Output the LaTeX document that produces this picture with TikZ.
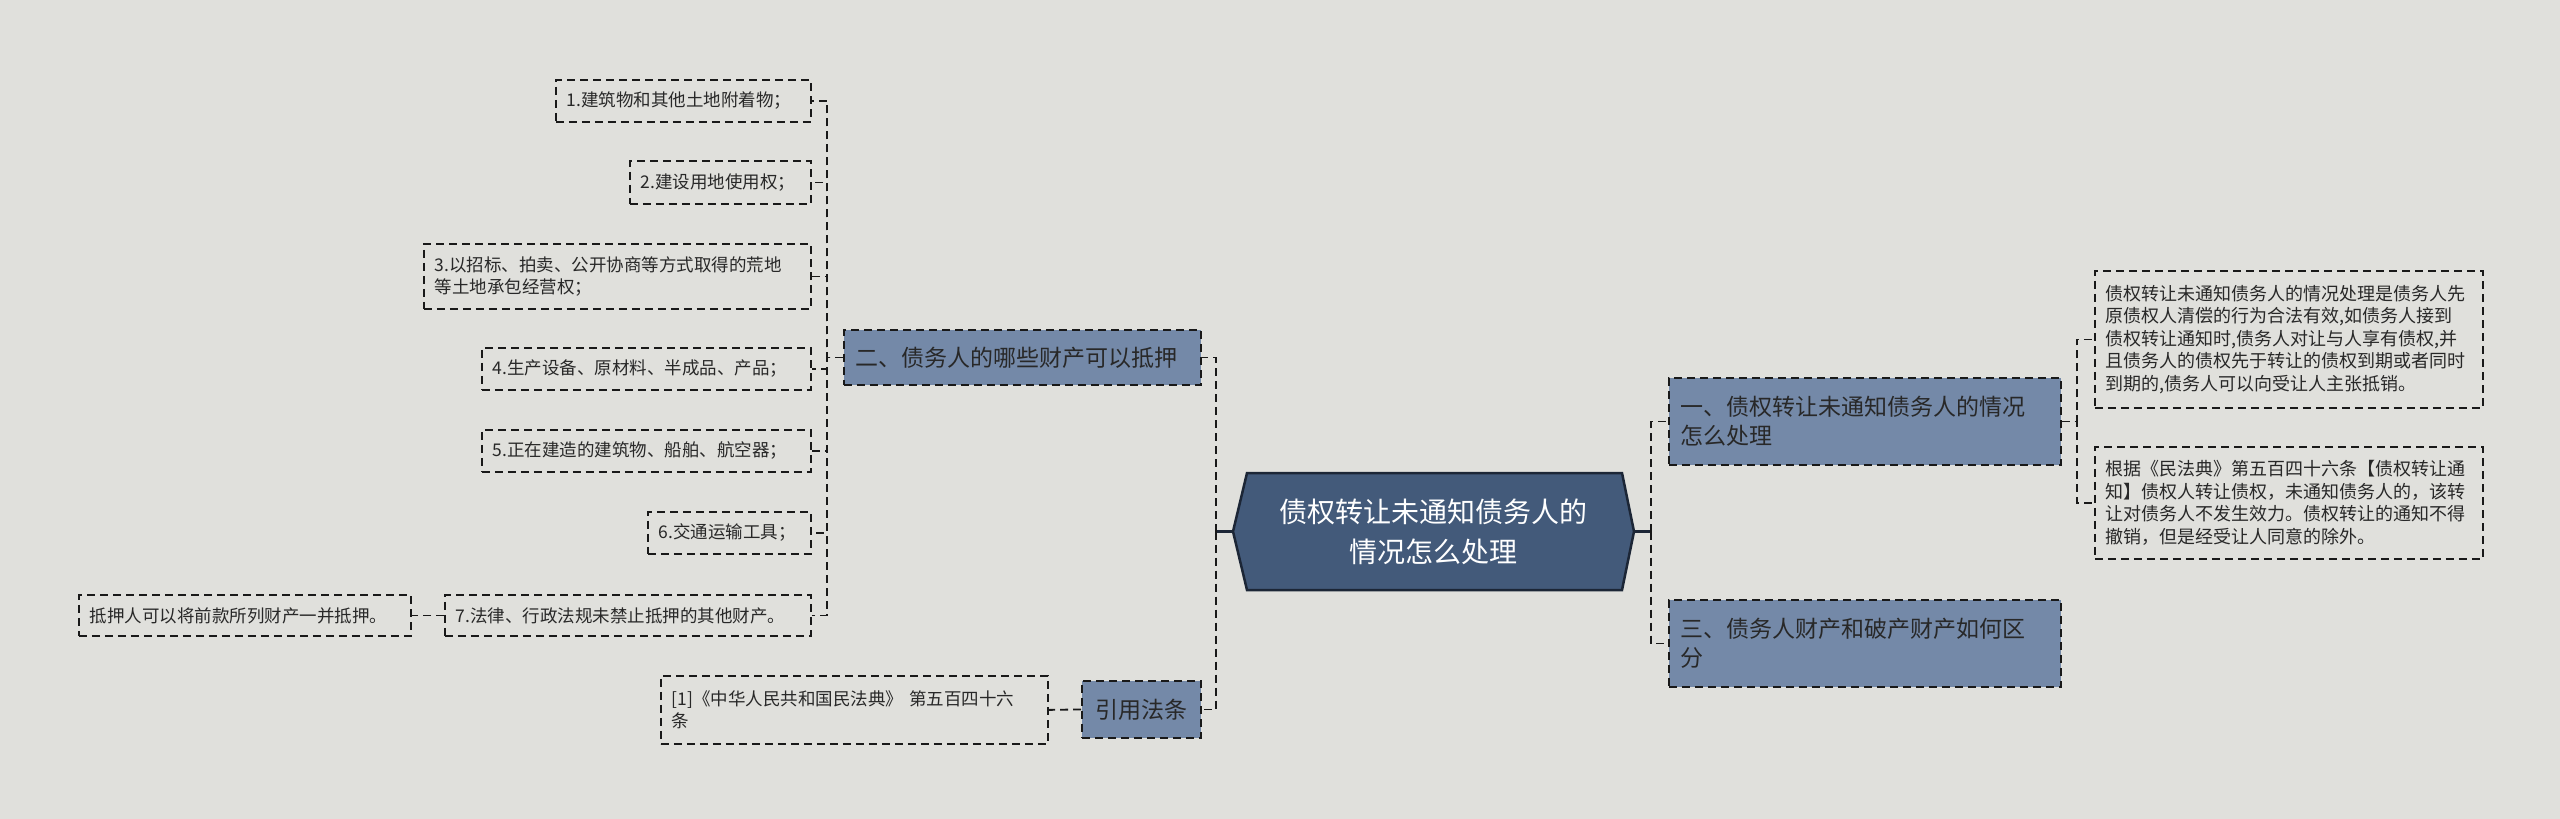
\documentclass[tikz,border=0pt]{standalone}
\usepackage{fontspec}
\setmainfont{Noto Sans CJK SC}
\usetikzlibrary{calc}
\definecolor{bg}{RGB}{224,224,220}
\definecolor{lvone}{RGB}{116,137,168}
\definecolor{ctr}{RGB}{67,90,122}
\definecolor{ctrline}{RGB}{28,38,54}
\definecolor{ink}{RGB}{40,40,40}
\definecolor{lineink}{RGB}{25,25,25}
\tikzset{
 box/.style={draw=lineink, dash pattern=on 8pt off 5pt, line width=1.8pt, anchor=north west, align=left, inner ysep=0pt, inner xsep=11pt},
 topic/.style={box, fill=lvone, text=ink, font=\fontsize{23}{29}\selectfont, inner xsep=12pt},
 leaf/.style={box, text=ink, font=\fontsize{17.5}{22.5}\selectfont},
 rleaf/.style={box, text=ink, font=\fontsize{18}{22.5}\selectfont},
 conn/.style={draw=lineink, dash pattern=on 8pt off 5pt, line width=1.8pt},
 stub/.style={draw=ctrline, line width=2.5pt},
}
\begin{document}
\begin{tikzpicture}[x=1pt,y=-1pt]
\fill[bg] (0,0) rectangle (2560,819);
\useasboundingbox (0,0) rectangle (2560,819);
% central hexagon
\filldraw[fill=ctr, draw=ctrline, line width=2.5pt] (1233,531.5) -- (1247,473) -- (1622,473) -- (1634,531.5) -- (1622,590) -- (1247,590) -- cycle;
\node[text=white, font=\fontsize{28}{40}\selectfont, align=center, minimum width=401pt, minimum height=117pt, inner sep=0pt] (c) at (1433.5,531.5) {债权转让未通知债务人的\\情况怎么处理};
% level one
\node[topic, text width=368pt, minimum height=87pt] (n1) at (1668,377) {一、债权转让未通知债务人的情况\\怎么处理};
\node[topic, text width=368pt, minimum height=87pt] (n3) at (1668,599) {三、债务人财产和破产财产如何区\\分};
\node[topic, text width=333pt, minimum height=55pt] (n2) at (843,329) {二、债务人的哪些财产可以抵押};
\node[topic, text width=95pt, minimum height=57pt, align=center] (nref) at (1081,680) {引用法条};
% right leaves
\node[rleaf, text width=366pt, minimum height=137pt] (r1) at (2094,270) {债权转让未通知债务人的情况处理是债务人先\\原债权人清偿的行为合法有效,如债务人接到\\债权转让通知时,债务人对让与人享有债权,并\\且债务人的债权先于转让的债权到期或者同时\\到期的,债务人可以向受让人主张抵销。};
\node[rleaf, text width=366pt, minimum height=112pt] (r2) at (2094,446) {根据《民法典》第五百四十六条【债权转让通\\知】债权人转让债权，未通知债务人的，该转\\让对债务人不发生效力。债权转让的通知不得\\撤销，但是经受让人同意的除外。};
% left leaves
\node[leaf, text width=233pt, minimum height=42pt] (l1) at (555,79) {1.建筑物和其他土地附着物；};
\node[leaf, text width=159pt, minimum height=43pt] (l2) at (629,160) {2.建设用地使用权；};
\node[leaf, text width=365pt, minimum height=65pt] (l3) at (423,243) {3.以招标、拍卖、公开协商等方式取得的荒地\\等土地承包经营权；};
\node[leaf, text width=307pt, minimum height=42pt] (l4) at (481,347) {4.生产设备、原材料、半成品、产品；};
\node[leaf, text width=307pt, minimum height=42pt] (l5) at (481,429) {5.正在建造的建筑物、船舶、航空器；};
\node[leaf, text width=141pt, minimum height=42pt] (l6) at (647,511) {6.交通运输工具；};
\node[leaf, text width=344pt, minimum height=41pt] (l7) at (444,594) {7.法律、行政法规未禁止抵押的其他财产。};
\node[leaf, text width=310pt, minimum height=41pt] (l7a) at (78,594) {抵押人可以将前款所列财产一并抵押。};
\node[leaf, text width=365pt, minimum height=68pt] (cite) at (660,675) {[1]《中华人民共和国民法典》 第五百四十六\\条};
% connectors from centre
\draw[stub] (c.west) -- ++(-17,0);
\draw[conn] ($(c.west)+(-17,0)$) |- (n2.east);
\draw[conn] ($(c.west)+(-17,0)$) |- (nref.east);
\draw[stub] (c.east) -- ++(17,0);
\draw[conn] ($(c.east)+(17,0)$) |- (n1.west);
\draw[conn] ($(c.east)+(17,0)$) |- (n3.west);
% n1 to leaves
\draw[conn] (n1.east) -- ++(15,0) |- (r1.west);
\draw[conn] (n1.east) -- ++(15,0) |- (r2.west);
% n2 to leaves
\foreach \k in {l1,l2,l3,l4,l5,l6,l7}{
  \draw[conn] (n2.west) -- ++(-16,0) |- (\k.east);
}
\draw[conn] (l7.west) -- (l7a.east);
\draw[conn] (nref.west) -- (cite.east);
\end{tikzpicture}
\end{document}
